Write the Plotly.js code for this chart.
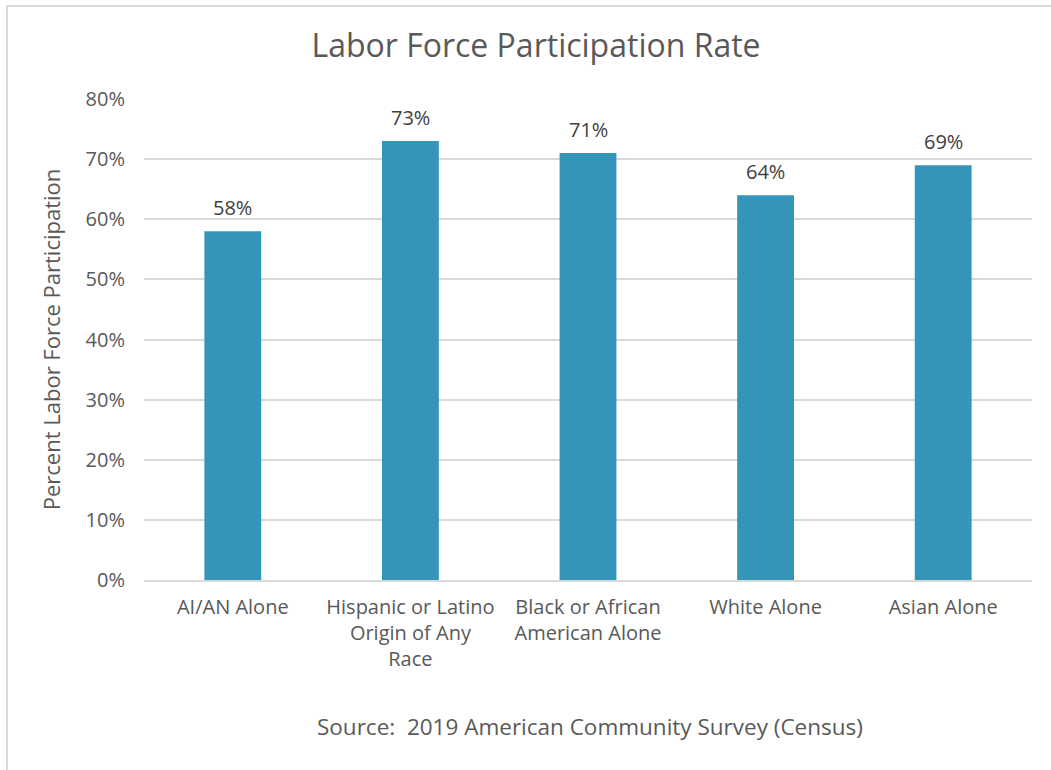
<!DOCTYPE html>
<html>
<head>
<meta charset="utf-8">
<script src="https://cdn.plot.ly/plotly-3.0.1.min.js"></script>
<style>
html,body{margin:0;padding:0;background:#fff;}
#wrap{position:absolute;left:6px;top:5px;width:1060px;height:780px;border:2px solid #d9d9d9;box-sizing:border-box;}
#chart{position:absolute;left:0;top:0;width:1051px;height:770px;}
</style>
</head>
<body>
<div id="wrap"></div>
<div id="chart"></div>
<script>
const categories = ["AI/AN Alone", "Hispanic or Latino<br>Origin of Any<br>Race", "Black or African<br>American Alone", "White Alone", "Asian Alone"];
const values = [0.58, 0.73, 0.71, 0.64, 0.69];
const labels = ["58%", "73%", "71%", "64%", "69%"];
const yTicks = [0, 0.1, 0.2, 0.3, 0.4, 0.5, 0.6, 0.7, 0.8];
const yTickLabels = ["0%", "10%", "20%", "30%", "40%", "50%", "60%", "70%", "80%"];

const fontFam = "'Open Sans', sans-serif";
const trace = {
  type: "bar",
  x: categories,
  y: values,
  marker: {color: "#3494ba"},
  hoverinfo: "none"
};
const valueAnnotations = categories.map((c, i) => ({
  x: c, y: values[i], xref: "x", yref: "y",
  text: labels[i], showarrow: false,
  xanchor: "center", yanchor: "middle", yshift: 24,
  font: {family: fontFam, size: 20, color: "#404040"}
}));
const layout = {
  width: 1051, height: 770,
  paper_bgcolor: "rgba(0,0,0,0)",
  plot_bgcolor: "rgba(0,0,0,0)",
  margin: {l: 144, r: 19, t: 99, b: 190},
  bargap: 0.68,
  showlegend: false,
  font: {family: fontFam, color: "#595959"},
  title: {text: "Labor Force Participation Rate", x: 0.51, xanchor: "center", y: 0.94, yanchor: "middle",
    font: {family: fontFam, size: 32, color: "#595959"}},
  xaxis: {
    tickfont: {family: fontFam, size: 20, color: "#595959"},
    showline: true, linecolor: "#d9d9d9", linewidth: 2,
    ticks: "", showgrid: false,
    ticklabelstandoff: 8
  },
  yaxis: {
    range: [0, 0.8],
    tickvals: yTicks, ticktext: yTickLabels,
    tickfont: {family: fontFam, size: 20, color: "#595959"},
    gridcolor: "#d9d9d9", gridwidth: 2,
    zeroline: false, showline: false, ticks: "",
    ticklabelstandoff: 18,
    title: {text: "Percent Labor Force Participation", standoff: 18,
      font: {family: fontFam, size: 22, color: "#595959"}}
  },
  annotations: valueAnnotations.concat([{
    text: "Source:  2019 American Community Survey (Census)",
    xref: "paper", yref: "paper", x: 0.502, y: -0.305, xanchor: "center", yanchor: "middle",
    showarrow: false, font: {family: fontFam, size: 22.5, color: "#595959"}
  }])
};
Plotly.newPlot("chart", [trace], layout, {displayModeBar: false, staticPlot: true});
</script>
</body>
</html>
